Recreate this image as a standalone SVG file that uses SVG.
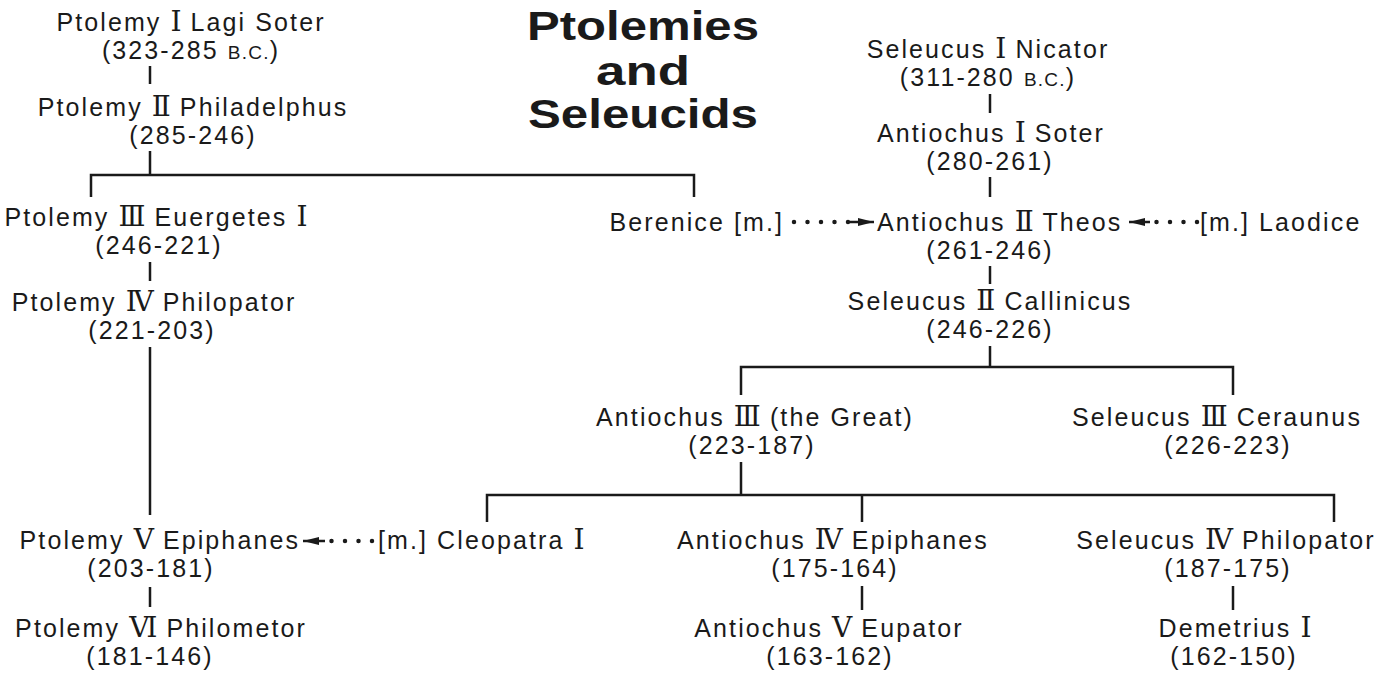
<svg xmlns="http://www.w3.org/2000/svg" width="1382" height="677" viewBox="0 0 1382 677">
<style>
text{font-family:"Liberation Sans",Arial,sans-serif;font-size:25px;letter-spacing:2.1px;fill:#1a1a1a;text-anchor:middle}
.rn{font-family:"DejaVu Serif","DejaVu Sans",serif;font-size:28px;letter-spacing:0}
.sc{font-size:19px;letter-spacing:1.2px}
.title{font-weight:bold;font-size:40px;letter-spacing:0}
.st{text-anchor:start}
.en{text-anchor:end}
.ln{stroke:#1a1a1a;stroke-width:2.5;fill:none}
.dots{stroke:#1a1a1a;stroke-width:4.5;stroke-linecap:round;stroke-dasharray:0 13.5;fill:none}
</style>
<defs>
<marker id="ah" viewBox="0 0 16 8" refX="16" refY="4" markerWidth="16" markerHeight="8" markerUnits="userSpaceOnUse" orient="auto">
<path d="M0,0 L16,4 L0,8 Z" fill="#1a1a1a"/>
</marker>
</defs>
<g id="title">
<text class="title" x="643" y="40" textLength="232" lengthAdjust="spacingAndGlyphs">Ptolemies</text>
<text class="title" x="643" y="85" textLength="94" lengthAdjust="spacingAndGlyphs">and</text>
<text class="title" x="643" y="128" textLength="230" lengthAdjust="spacingAndGlyphs">Seleucids</text>
</g>
<g id="connectors">
<path class="ln" d="M150,66V84"/>
<path class="ln" d="M150,151V175M91,197V175H694V197"/>
<path class="ln" d="M150,262V281"/>
<path class="ln" d="M150,347V515"/>
<path class="ln" d="M150,587V607"/>
<path class="ln" d="M990,94V113"/>
<path class="ln" d="M990,177V197"/>
<path class="ln" d="M990,266V284"/>
<path class="ln" d="M990,346V367M741,395V367H1233V395"/>
<path class="ln" d="M741,462V495M487,522V495H1334V522M862,495V522"/>
<path class="ln" d="M862,586V610"/>
<path class="ln" d="M1233,586V610"/>
<path class="dots" d="M794,222H850"/>
<path class="ln" d="M850,222H874" stroke-width="0.1" marker-end="url(#ah)"/>
<path class="dots" d="M1197,222H1155"/>
<path class="ln" d="M1150,222H1129" stroke-width="0.1" marker-end="url(#ah)"/>
<path class="dots" d="M372,541H330"/>
<path class="ln" d="M325,541H303" stroke-width="0.1" marker-end="url(#ah)"/>
</g>
<g id="ptolemy1"><text x="191" y="31">Ptolemy <tspan class="rn">Ⅰ</tspan> Lagi Soter</text><text x="191" y="59">(323-285 <tspan class="sc">B.C.</tspan>)</text></g>
<g id="ptolemy2"><text x="193" y="116">Ptolemy <tspan class="rn">Ⅱ</tspan> Philadelphus</text><text x="193" y="144">(285-246)</text></g>
<g id="ptolemy3"><text x="156" y="226">Ptolemy <tspan class="rn">Ⅲ</tspan> Euergetes <tspan class="rn">Ⅰ</tspan></text><text x="159" y="254">(246-221)</text></g>
<g id="ptolemy4"><text x="154" y="311">Ptolemy <tspan class="rn">Ⅳ</tspan> Philopator</text><text x="152" y="339">(221-203)</text></g>
<g id="ptolemy5"><text class="en" x="300" y="549">Ptolemy <tspan class="rn">Ⅴ</tspan> Epiphanes</text><text x="151" y="577">(203-181)</text></g>
<g id="ptolemy6"><text x="161" y="637">Ptolemy <tspan class="rn">Ⅵ</tspan> Philometor</text><text x="150" y="665">(181-146)</text></g>
<g id="cleopatra"><text class="st" x="378" y="549">[m.] Cleopatra <tspan class="rn">Ⅰ</tspan></text></g>
<g id="berenice"><text class="en" x="784" y="231">Berenice [m.]</text></g>
<g id="seleucus1"><text x="988" y="58">Seleucus <tspan class="rn">Ⅰ</tspan> Nicator</text><text x="988" y="86">(311-280 <tspan class="sc">B.C.</tspan>)</text></g>
<g id="antiochus1"><text x="991" y="142">Antiochus <tspan class="rn">Ⅰ</tspan> Soter</text><text x="990" y="170">(280-261)</text></g>
<g id="antiochus2"><text class="st" x="877" y="231">Antiochus <tspan class="rn">Ⅱ</tspan> Theos</text><text x="990" y="259">(261-246)</text></g>
<g id="laodice"><text class="st" x="1200" y="231">[m.] Laodice</text></g>
<g id="seleucus2"><text x="990" y="310">Seleucus <tspan class="rn">Ⅱ</tspan> Callinicus</text><text x="990" y="338">(246-226)</text></g>
<g id="antiochus3"><text x="755" y="426">Antiochus <tspan class="rn">Ⅲ</tspan> (the Great)</text><text x="752" y="454">(223-187)</text></g>
<g id="seleucus3"><text x="1217" y="426">Seleucus <tspan class="rn">Ⅲ</tspan> Ceraunus</text><text x="1228" y="454">(226-223)</text></g>
<g id="antiochus4"><text x="833" y="549">Antiochus <tspan class="rn">Ⅳ</tspan> Epiphanes</text><text x="835" y="577">(175-164)</text></g>
<g id="seleucus4"><text x="1226" y="549">Seleucus <tspan class="rn">Ⅳ</tspan> Philopator</text><text x="1228" y="577">(187-175)</text></g>
<g id="antiochus5"><text x="829" y="637">Antiochus <tspan class="rn">Ⅴ</tspan> Eupator</text><text x="830" y="665">(163-162)</text></g>
<g id="demetrius1"><text x="1235" y="637">Demetrius <tspan class="rn">Ⅰ</tspan></text><text x="1234" y="665">(162-150)</text></g>
</svg>
